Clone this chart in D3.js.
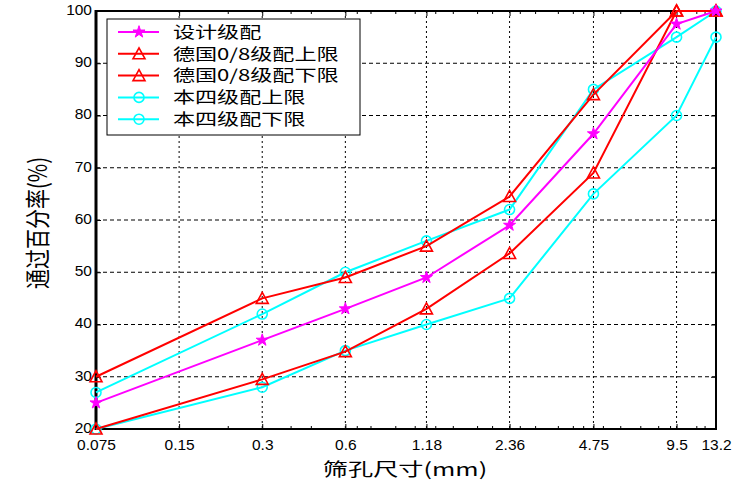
<!DOCTYPE html>
<html><head><meta charset="utf-8">
<script src="https://cdn.jsdelivr.net/npm/d3@7"></script>
<style>body{margin:0;background:#fff}svg{display:block}</style>
</head><body><svg id="c" width="751" height="489"></svg>
<script>
const sieve = [0.075, 0.3, 0.6, 1.18, 2.36, 4.75, 9.5, 13.2];
const xTickVals = [0.075, 0.15, 0.3, 0.6, 1.18, 2.36, 4.75, 9.5, 13.2];
const xTickLabels = ["0.075","0.15","0.3","0.6","1.18","2.36","4.75","9.5","13.2"];
const xMinorTicks = [0.225, 0.38, 0.45, 0.66, 0.74, 0.91, 1.07, 1.27, 1.47, 1.8, 2.04, 2.57, 2.92, 3.53, 4.0, 4.36, 5.14, 5.94, 7.02, 8.15, 9.0, 11.2, 12.0];
const yTicks = [20, 30, 40, 50, 60, 70, 80, 90, 100];
const design   = [25, 37, 43, 49, 59, 76.5, 97.5, 100];
const deUpper  = [30, 45, 49, 55, 64.5, 84, 100, 100];
const deLower  = [20, 29.5, 34.8, 43, 53.6, 69, 100, 100];
const bsUpper  = [27, 42, 50, 56, 62, 85, 95, 100];
const bsLower  = [20, 28, 35, 40, 45, 65, 80, 95];
const seriesNames = ["设计级配","德国0/8级配上限","德国0/8级配下限","本四级配上限","本四级配下限"];
const seriesColors = ["#ff00ff","#ff0000","#ff0000","#00ffff","#00ffff"];
const seriesMarkers = ["star","tri","tri","circ","circ"];
const seriesData = [design, deUpper, deLower, bsUpper, bsLower];

const svg = d3.select("#c");
const L = 96, R = 716, T = 11, B = 429;
const x = d3.scaleLog().domain([0.075, 13.2]).range([L, R]);
const y = d3.scaleLinear().domain([20, 100]).range([B, T]);
const font = "'Liberation Sans', Arial, sans-serif";
const cjk = "'Noto Sans CJK SC', 'Liberation Sans', sans-serif";

svg.append("rect").attr("x",L).attr("y",T).attr("width",R-L).attr("height",B-T).attr("fill","#fff");

// grid
const g = svg.append("g");
g.selectAll(".hg").data(yTicks.filter(v=>v>20&&v<100)).enter().append("line")
  .attr("x1",L).attr("x2",R).attr("y1",d=>y(d)).attr("y2",d=>y(d))
  .attr("stroke","#000").attr("stroke-width",1).attr("stroke-dasharray","4,3");
g.selectAll(".vg").data(xTickVals.slice(1,-1)).enter().append("line")
  .attr("x1",d=>x(d)).attr("x2",d=>x(d)).attr("y1",T).attr("y2",B)
  .attr("stroke","#000").attr("stroke-width",1).attr("stroke-dasharray","2,3");

// axes
const bottom = d3.axisBottom(x).tickValues(xTickVals).tickFormat((d,i)=>xTickLabels[i]).tickSizeInner(-5).tickSizeOuter(0).tickPadding(10);
const ba = svg.append("g").attr("transform",`translate(0,${B})`).call(bottom);
ba.select(".domain").remove();
ba.selectAll("text").attr("font-family",font).attr("font-size",15.5).attr("fill","#000");
ba.selectAll("line").attr("stroke","#000");
const bMinor = d3.axisBottom(x).tickValues(xMinorTicks).tickFormat("").tickSizeInner(-3).tickSizeOuter(0);
const bm = svg.append("g").attr("transform",`translate(0,${B})`).call(bMinor);
bm.select(".domain").remove();
const tMaj = d3.axisTop(x).tickValues(xTickVals).tickFormat("").tickSizeInner(-5).tickSizeOuter(0);
const ta = svg.append("g").attr("transform",`translate(0,${T})`).call(tMaj); ta.select(".domain").remove();
const tMin = d3.axisTop(x).tickValues(xMinorTicks).tickFormat("").tickSizeInner(-3).tickSizeOuter(0);
const tm = svg.append("g").attr("transform",`translate(0,${T})`).call(tMin); tm.select(".domain").remove();

const left = d3.axisLeft(y).tickValues(yTicks).tickSizeInner(-5).tickSizeOuter(0).tickPadding(4);
const la = svg.append("g").attr("transform",`translate(${L},0)`).call(left);
la.select(".domain").remove();
la.selectAll("text").attr("font-family",font).attr("font-size",15.5).attr("fill","#000").attr("dy","0.22em");
const right = d3.axisRight(y).tickValues(yTicks).tickFormat("").tickSizeInner(-5).tickSizeOuter(0);
const ra = svg.append("g").attr("transform",`translate(${R},0)`).call(right); ra.select(".domain").remove();

svg.append("rect").attr("x",L).attr("y",T).attr("width",R-L).attr("height",B-T)
  .attr("fill","none").attr("stroke","#000").attr("stroke-width",2);
svg.append("line").attr("x1",L).attr("x2",L).attr("y1",T-1).attr("y2",B+1).attr("stroke","#000").attr("stroke-width",3);

// series
const line = d3.line().x((d,i)=>x(sieve[i])).y(d=>y(d));
function marker(sel, type, color, cx, cy){
  if(type==="star"){
    sel.append("path").attr("d",d3.symbol().type(d3.symbolStar).size(45)()).attr("transform",`translate(${cx},${cy})`)
      .attr("fill",color).attr("stroke",color).attr("stroke-width",1);
  } else if(type==="tri"){
    sel.append("path").attr("d",`M0,-6L6,5L-6,5Z`).attr("transform",`translate(${cx},${cy})`)
      .attr("fill","none").attr("stroke",color).attr("stroke-width",1.6);
  } else {
    sel.append("circle").attr("cx",cx).attr("cy",cy).attr("r",5)
      .attr("fill","none").attr("stroke",color).attr("stroke-width",1.6);
  }
}
const order = [4,3,2,1,0];
order.forEach(k=>{
  const sg = svg.append("g");
  sg.append("path").datum(seriesData[k]).attr("d",line).attr("fill","none")
    .attr("stroke",seriesColors[k]).attr("stroke-width",2);
  seriesData[k].forEach((v,i)=>marker(sg, seriesMarkers[k], seriesColors[k], x(sieve[i]), y(v)));
});

// legend
const lg = svg.append("g");
lg.append("rect").attr("x",107).attr("y",19).attr("width",253).attr("height",116)
  .attr("fill","#fff").attr("stroke","#000").attr("stroke-width",1);
seriesNames.forEach((n,i)=>{
  const yy = 32 + i*21.8;
  lg.append("line").attr("x1",118).attr("x2",159).attr("y1",yy).attr("y2",yy)
    .attr("stroke",seriesColors[i]).attr("stroke-width",2);
  marker(lg, seriesMarkers[i], seriesColors[i], 139, yy);
  lg.append("text").attr("transform",`translate(173,${yy}) scale(1.38,1)`).attr("dy","0.36em").text(n)
    .attr("font-family",cjk).attr("font-size",16).attr("fill","#000");
});

// axis titles
svg.append("text").attr("transform","translate(405,476) scale(1.4,1)").attr("text-anchor","middle")
  .attr("font-family",cjk).attr("font-size",18).attr("fill","#000").text("筛孔尺寸(mm)");
svg.append("text").attr("transform","translate(38,223) scale(1.25,1) rotate(-90)").attr("dy","0.36em").attr("text-anchor","middle")
  .attr("font-family",cjk).attr("font-size",20).attr("fill","#000").text("通过百分率(%)");
</script></body></html>
